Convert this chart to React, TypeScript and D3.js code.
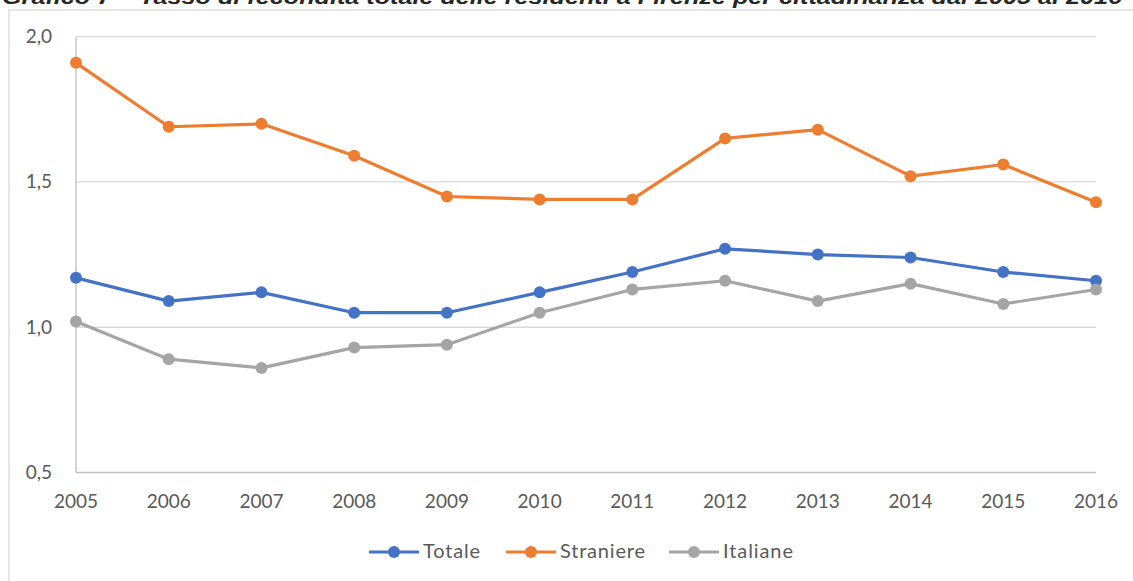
import React from "react";
import * as d3 from "d3";

const years = ["2005","2006","2007","2008","2009","2010","2011","2012","2013","2014","2015","2016"];
const totale = [1.17,1.09,1.12,1.05,1.05,1.12,1.19,1.27,1.25,1.24,1.19,1.16];
const straniere = [1.91,1.69,1.70,1.59,1.45,1.44,1.44,1.65,1.68,1.52,1.56,1.43];
const italiane = [1.02,0.89,0.86,0.93,0.94,1.05,1.13,1.16,1.09,1.15,1.08,1.13];
const yTicks = [0.5,1.0,1.5,2.0];
const seriesNames = ["Totale","Straniere","Italiane"];
const seriesColors = ["#4472C4","#ED7D31","#A5A5A5"];
const title = "Grafico 7 – Tasso di fecondità totale delle residenti a Firenze per cittadinanza dal 2005 al 2016";

export default function App() {
  const W = 1133, H = 581;
  const x = d3.scalePoint<string>().domain(years).range([76, 1096]);
  const y = d3.scaleLinear().domain([0.5, 2.0]).range([472.5, 36.7]);
  const fmt = (v: number) => d3.format(".1f")(v).replace(".", ",");
  const series = [totale, straniere, italiane];
  const line = d3.line<number>().x((_, i) => x(years[i]) as number).y((d) => y(d));
  const font = "Lato, 'Open Sans', sans-serif";
  const legendX = [369, 506, 669];
  const legendW = [57, 85, 70];

  return (
    <svg width={W} height={H} style={{ position: "absolute", left: 0, top: 0, background: "#fff" }}>
      <text x={2} y={4} fontFamily="'Liberation Sans', Arial, sans-serif" fontStyle="italic" fontWeight="bold"
        fontSize={20} fill="#262626" textLength={1120} lengthAdjust="spacingAndGlyphs">{title}</text>
      <rect x={9} y={10} width={1200} height={700} fill="none" stroke="#d9d9d9" strokeWidth={1.3} />
      {yTicks.map((t) => (
        <g key={t}>
          {t > 0.5 && (
            <line x1={76} x2={1096} y1={y(t)} y2={y(t)} stroke="#d9d9d9" strokeWidth={1.3} />
          )}
          <text x={52} y={y(t) + 6.5} textAnchor="end" fontFamily={font} fontSize={19} fill="#595959">{fmt(t)}</text>
        </g>
      ))}
      <line x1={76} x2={76} y1={y(2.0)} y2={y(0.5)} stroke="#bfbfbf" strokeWidth={1.3} />
      <line x1={76} x2={1096} y1={y(0.5)} y2={y(0.5)} stroke="#bfbfbf" strokeWidth={1.3} />
      {years.map((yr) => (
        <text key={yr} x={x(yr)} y={508} textAnchor="middle" fontFamily={font} fontSize={19} fill="#595959">{yr}</text>
      ))}
      {series.map((s, si) => (
        <g key={si}>
          <path d={line(s) || ""} fill="none" stroke={seriesColors[si]} strokeWidth={3.2} strokeLinejoin="round" strokeLinecap="round" />
          {s.map((v, i) => (
            <circle key={i} cx={x(years[i])} cy={y(v)} r={6} fill={seriesColors[si]} />
          ))}
        </g>
      ))}
      {seriesNames.map((n, i) => (
        <g key={n}>
          <line x1={legendX[i]} x2={legendX[i] + 50} y1={552} y2={552} stroke={seriesColors[i]} strokeWidth={3.2} />
          <circle cx={legendX[i] + 25} cy={552} r={6} fill={seriesColors[i]} />
          <text x={legendX[i] + 54} y={558} fontFamily={font} fontSize={20} fill="#595959"
            textLength={legendW[i]} lengthAdjust="spacing">{n}</text>
        </g>
      ))}
    </svg>
  );
}
